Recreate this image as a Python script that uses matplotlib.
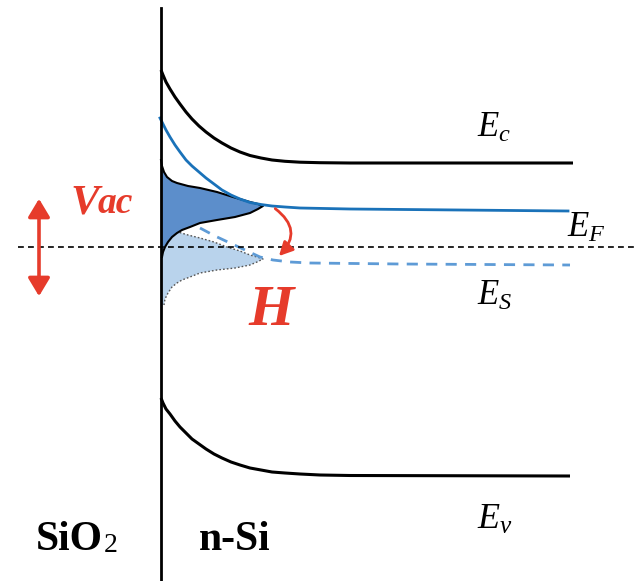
import matplotlib.pyplot as plt
from matplotlib.patches import FancyArrowPatch, Polygon, ArrowStyle

plt.rcParams['mathtext.fontset'] = 'custom'
plt.rcParams['mathtext.rm'] = 'Liberation Serif'
plt.rcParams['mathtext.it'] = 'Liberation Serif:italic'
plt.rcParams['mathtext.bf'] = 'Liberation Serif:bold'

# band edges traced in pixel space (x to the right, y downward = lower energy)
ec_x = [161, 163, 166, 170, 175, 180, 186, 192, 199, 206, 214, 222, 231, 240, 250, 261, 272, 285, 300, 320, 350, 573]
ec_y = [70, 75, 82, 89, 97, 104, 112, 119, 126, 132, 138, 143, 148, 152, 155.5, 158, 160, 161.3, 162.2, 162.7, 163, 163]

ev_x = [161, 163, 166, 170, 175, 180, 186, 192, 199, 206, 214, 222, 231, 240, 250, 261, 272, 285, 300, 320, 350, 570]
ev_y = [398, 403, 409, 414, 421, 427, 433, 439, 444, 449, 454, 458, 462, 465, 468, 470, 472, 473, 474, 475, 475.5, 476]

ef_x = [160, 163, 166, 170, 175, 180, 186, 192, 199, 206, 214, 222, 231, 240, 250, 261, 272, 285, 300, 350, 568]
ef_y = [118, 124, 130, 137, 145, 152, 160, 166, 172, 178, 184, 190, 195, 199, 202.5, 204.5, 206, 207, 208, 209, 211]

# surface-state level (dashed)
es_x = [200, 215, 230, 245, 260, 273, 290, 310, 400, 570]
es_y = [228, 236, 243, 250, 257, 260, 262, 263, 264, 265]

# occupied (dark) and empty (light) interface-state distributions
dark_x = [161, 162, 164, 167, 172, 177, 188, 200, 217, 233, 250, 258, 263,
          258, 250, 235, 217, 200, 190, 182, 177, 172, 168, 165, 163, 162, 161]
dark_y = [160, 166, 172, 177, 181, 183, 186, 188, 192, 197, 202, 204, 206,
          209, 213, 217, 220, 223, 227, 230, 233, 237, 242, 247, 252, 257, 257]

light_x = [161, 170, 178, 188, 200, 214, 227, 240, 250, 257, 263,
           257, 250, 235, 217, 200, 190, 182, 177, 172, 168, 165, 164, 161]
light_y = [232, 232, 232, 235, 238, 242, 247, 251, 255, 257, 259,
           262, 265, 268, 270, 273, 277, 280, 283, 287, 293, 299, 305, 305]

fig = plt.figure(figsize=(6.42, 5.81), dpi=100)
ax = fig.add_axes([0, 0, 1, 1])
ax.set_xlim(0, 642)
ax.set_ylim(581, 0)
ax.axis('off')

red = '#e63b2b'
blue = '#1a72b9'
lblue = '#5e9bd6'

ax.add_patch(Polygon(list(zip(light_x, light_y)), closed=True,
                     facecolor='#b9d3ec', edgecolor='none', zorder=1))
ax.plot(light_x[:-1], light_y[:-1], color='#555555', lw=1.0, ls=(0, (1.2, 1.5)), zorder=2)
ax.add_patch(Polygon(list(zip(dark_x, dark_y)), closed=True,
                     facecolor='#5c8ecb', edgecolor='none', zorder=3))
ax.plot(dark_x[:-1], dark_y[:-1], color='black', lw=1.5, zorder=4)

ax.plot(ec_x, ec_y, color='black', lw=2.2, solid_capstyle='butt', solid_joinstyle='round')
ax.plot(ev_x, ev_y, color='black', lw=2.2, solid_capstyle='butt', solid_joinstyle='round')
ax.plot(ef_x, ef_y, color=blue, lw=2.0, zorder=5, solid_joinstyle='round')
ax.plot(es_x, es_y, color=lblue, lw=2.0, ls=(0, (4, 3)), zorder=5)

# Fermi level at equilibrium and SiO2/Si interface
ax.plot([18, 636], [247, 247], color='black', lw=1.2, ls=(0, (3.5, 2.5)), zorder=6)
ax.plot([161, 161], [8, 581], color='black', lw=2.0, zorder=7)

ax.add_patch(FancyArrowPatch((273, 207), (277, 258), connectionstyle='arc3,rad=-0.6',
                             arrowstyle=ArrowStyle('-|>', head_length=0.55, head_width=0.28),
                             mutation_scale=15, color=red, lw=2.0, zorder=8))
ax.add_patch(FancyArrowPatch((39, 196), (39, 299),
                             arrowstyle=ArrowStyle('<|-|>', head_length=0.5, head_width=0.3),
                             mutation_scale=22, color=red, lw=2.6, zorder=8))

serif = 'Liberation Serif'
ax.text(70, 213, 'V', color=red, fontsize=31, fontfamily=serif, fontweight='bold',
        fontstyle='italic', va='baseline', ha='left')
ax.text(98, 213, 'ac', color=red, fontsize=27, fontfamily=serif, fontweight='bold',
        fontstyle='italic', va='baseline', ha='left')
ax.text(248, 325, 'H', color=red, fontsize=42, fontfamily=serif, fontweight='bold',
        fontstyle='italic', va='baseline', ha='left')

ax.text(477, 137, r'$E_c$', fontsize=25, va='baseline', ha='left')
ax.text(567, 237, r'$E_F$', fontsize=25, va='baseline', ha='left')
ax.text(477, 305, r'$E_S$', fontsize=25, va='baseline', ha='left')
ax.text(477, 529, r'$E_v$', fontsize=26, va='baseline', ha='left')

ax.text(36, 550, 'SiO', fontsize=30, fontfamily=serif, fontweight='bold',
        va='baseline', ha='left')
ax.text(104, 552, '2', fontsize=20, fontfamily=serif,
        va='baseline', ha='left')
ax.text(199, 550, 'n-Si', fontsize=30, fontfamily=serif, fontweight='bold',
        va='baseline', ha='left')

fig.savefig('out.png', dpi=100)
